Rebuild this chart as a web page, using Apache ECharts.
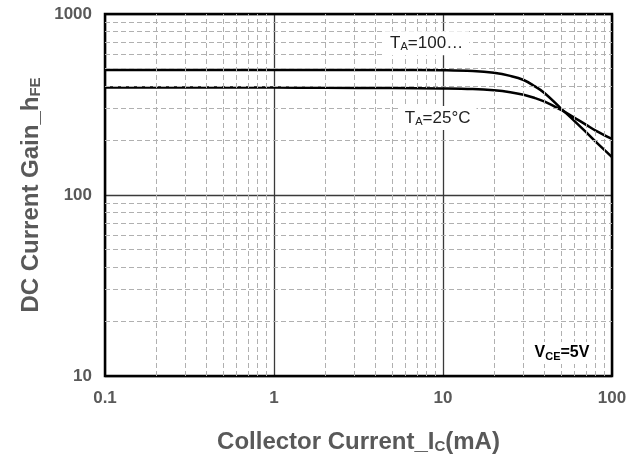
<!DOCTYPE html>
<html><head><meta charset="utf-8">
<script src="https://cdn.jsdelivr.net/npm/echarts@6/dist/echarts.min.js"></script>
<style>html,body{margin:0;padding:0;background:#fff}#c{width:639px;height:462px}</style>
</head><body><div id="c"></div>
<script>
// Collector current (mA)
const icValues = [0.1, 0.2, 0.5, 1, 2, 5, 10, 15, 20, 25, 30, 35, 40, 50, 60, 70, 80, 100];
// DC current gain hFE at TA = 100°C
const hfe100 = [491, 491, 491, 491, 491, 491, 489, 484, 473, 455, 432, 398, 365, 300, 256, 223, 197, 162];
// DC current gain hFE at TA = 25°C
const hfe25 = [392, 392, 392, 392, 391, 390, 388, 385, 379, 370, 358, 343, 328, 295, 267, 245, 227, 204];
// tick / grid values
const xMinor = [0.2,0.3,0.4,0.5,0.6,0.7,0.8,0.9,2,3,4,5,6,7,8,9,20,30,40,50,60,70,80,90];
const yMinor = [20,30,40,50,60,70,80,90,200,300,400,500,600,700,800,900];
const xLabels = ['0.1','1','10','100'];
const yLabels = ['10','100','1000'];

const labelColor = '#595959';
const font = 'Liberation Sans, Arial, sans-serif';
const chart = echarts.init(document.getElementById('c'));
const pair = (xs, ys) => xs.map((x, i) => [x, ys[i]]);
const minorStyle = {color: '#b0b0b0', type: [5, 3], width: 1};
const annRich = (bold, color) => ({
  a: {fontFamily: font, fontSize: bold ? 16 : 17, fontWeight: bold ? 'bold' : 'normal', color: color},
  s: {fontFamily: font, fontSize: 11, fontWeight: bold ? 'bold' : 'normal', color: color, verticalAlign: 'bottom', padding: [7,0,0,0]}
});

chart.setOption({
  animation: false,
  backgroundColor: '#fff',
  grid: {left: 105, right: 27, top: 14, bottom: 86, show: true, borderColor: '#000', borderWidth: 2.5, backgroundColor: 'transparent', z: 5},
  xAxis: {
    type: 'log', logBase: 10, min: 0.1, max: 100,
    name: '{a|Collector Current_I}{s|C}{a|(mA)}',
    nameLocation: 'middle', nameGap: 54,
    nameTextStyle: {rich: {
      a: {fontFamily: font, fontWeight: 'bold', fontSize: 24, color: labelColor},
      s: {fontFamily: font, fontWeight: 'bold', fontSize: 15, color: labelColor, verticalAlign: 'bottom', padding: [9,0,0,0]}
    }},
    axisLine: {show: false}, axisTick: {show: false},
    axisLabel: {fontFamily: font, fontWeight: 'bold', fontSize: 17, color: labelColor, margin: 14,
      formatter: v => { const s = xLabels.find(l => Math.abs(parseFloat(l) - v) < 1e-6 * Math.max(1, v)); return s || ''; }},
    splitLine: {show: true, lineStyle: {color: '#3a3a3a', width: 1.3}}
  },
  yAxis: {
    type: 'log', logBase: 10, min: 10, max: 1000,
    name: '{a|DC Current Gain_h}{s|FE}',
    nameLocation: 'middle', nameGap: 58, nameRotate: 90,
    nameTextStyle: {rich: {
      a: {fontFamily: font, fontWeight: 'bold', fontSize: 24, color: labelColor},
      s: {fontFamily: font, fontWeight: 'bold', fontSize: 15, color: labelColor, verticalAlign: 'bottom', padding: [9,0,0,0]}
    }},
    axisLine: {show: false}, axisTick: {show: false},
    axisLabel: {fontFamily: font, fontWeight: 'bold', fontSize: 17, color: labelColor, margin: 13,
      formatter: v => { const s = yLabels.find(l => Math.abs(parseFloat(l) - v) < 1e-6 * v); return s || ''; }},
    splitLine: {show: true, lineStyle: {color: '#3a3a3a', width: 1.3}}
  },
  series: [
    {
      type: 'line', data: [], z: 1, silent: true,
      markLine: {
        silent: true, symbol: 'none', animation: false, label: {show: false},
        lineStyle: minorStyle,
        data: xMinor.map(v => ({xAxis: v})).concat(yMinor.map(v => ({yAxis: v})))
      }
    },
    {
      name: 'TA=100', type: 'line', data: pair(icValues, hfe100), smooth: 0.4, showSymbol: false, z: 4,
      lineStyle: {color: '#000', width: 2.5},
      markPoint: {
        symbol: 'rect', symbolSize: 0, silent: true,
        data: [
          {coord: [8.0, 690], label: {show: true, backgroundColor: '#fff', padding: [3,6,3,6],
            formatter: '{a|T}{s|A}{a|=100…}', rich: annRich(false, '#222')}},
          {coord: [9.3, 266], label: {show: true, backgroundColor: '#fff', padding: [3,6,3,6],
            formatter: '{a|T}{s|A}{a|=25°C}', rich: annRich(false, '#222')}},
          {coord: [50.6, 13.4], label: {show: true, backgroundColor: '#fff', padding: [2,4,2,4],
            formatter: '{a|V}{s|CE}{a|=5V}', rich: annRich(true, '#000')}}
        ]
      }
    },
    {
      name: 'TA=25', type: 'line', data: pair(icValues, hfe25), smooth: 0.4, showSymbol: false, z: 4,
      lineStyle: {color: '#000', width: 2.5}
    }
  ]
});
</script></body></html>
